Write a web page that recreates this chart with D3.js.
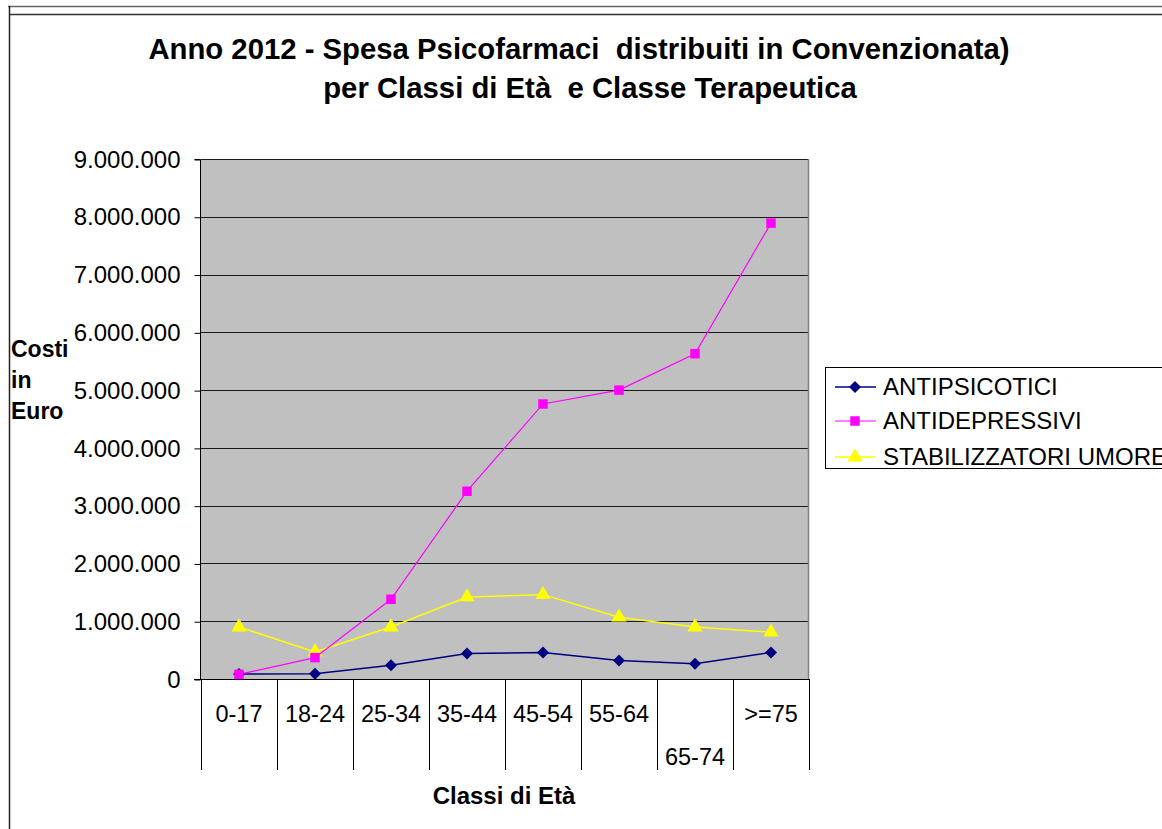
<!DOCTYPE html>
<html><head><meta charset="utf-8">
<script src="https://cdn.jsdelivr.net/npm/d3@7"></script>
<style>
body{margin:0;background:#fff;}
svg{display:block;font-family:"Liberation Sans",Arial,sans-serif;}
</style></head>
<body><svg id="c" width="1162" height="829"></svg>
<script>
const categories = ["0-17","18-24","25-34","35-44","45-54","55-64","65-74",">=75"];
const antipsicotici = [85000, 90000, 240000, 440000, 460000, 320000, 265000, 460000];
const antidepressivi = [80000, 370000, 1380000, 3250000, 4760000, 5000000, 5630000, 7890000];
const stabilizzatori = [900000, 470000, 900000, 1420000, 1460000, 1070000, 900000, 810000];
const seriesNames = ["ANTIPSICOTICI","ANTIDEPRESSIVI","STABILIZZATORI UMORE"];
const yTicks = [0,1000000,2000000,3000000,4000000,5000000,6000000,7000000,8000000,9000000];
const titleLines = ["Anno 2012 - Spesa Psicofarmaci  distribuiti in Convenzionata)","per Classi di Età  e Classe Terapeutica"];
const yTitle = ["Costi","in","Euro"];
const xTitle = "Classi di Età";

const svg = d3.select("#c");
const L=201, R=809, T=159, B=679;
const x = d3.scaleBand().domain(categories).range([L,R]);
const y = d3.scaleLinear().domain([0,9000000]).range([B,T]);
const loc = d3.formatLocale({decimal:",",thousands:".",grouping:[3],currency:["",""]});
const fmt = loc.format(",d");

// outer frame
svg.append("line").attr("x1",8).attr("x2",1162).attr("y1",6.5).attr("y2",6.5).attr("stroke","#666").attr("stroke-width",1.5);
svg.append("line").attr("x1",10).attr("x2",1162).attr("y1",14.5).attr("y2",14.5).attr("stroke","#333").attr("stroke-width",1.5);
svg.append("line").attr("x1",9.5).attr("x2",9.5).attr("y1",6).attr("y2",829).attr("stroke","#222").attr("stroke-width",1.5);

// plot bg
svg.append("rect").attr("x",L).attr("y",T).attr("width",R-L).attr("height",B-T).attr("fill","#C0C0C0");
// grid
svg.append("g").selectAll("line").data(yTicks.slice(1)).join("line")
  .attr("x1",L).attr("x2",R).attr("y1",d=>Math.round(y(d))+0.5).attr("y2",d=>Math.round(y(d))+0.5)
  .attr("stroke","#1a1a1a").attr("stroke-width",1);
svg.append("line").attr("x1",R-0.5).attr("x2",R-0.5).attr("y1",T).attr("y2",B).attr("stroke","#808080").attr("stroke-width",1.5);

// y axis
const ya = svg.append("g").attr("transform",`translate(${L-0.5},0.5)`)
  .call(d3.axisLeft(y).tickValues(yTicks).tickFormat(fmt).tickSize(6).tickPadding(14));
ya.select(".domain").attr("stroke","#000").attr("d",`M-6,${T}H0V${B}`);
ya.selectAll(".tick line").attr("stroke","#000");
ya.selectAll(".tick text").attr("font-size",24).attr("fill","#000").attr("font-family","Liberation Sans, Arial, sans-serif");

// x axis
svg.append("line").attr("x1",194).attr("x2",R).attr("y1",B+0.5).attr("y2",B+0.5).attr("stroke","#000");
const bounds = categories.map(c=>x(c)).concat([R]);
svg.append("g").selectAll("line").data(bounds).join("line")
  .attr("x1",d=>Math.round(d)+0.5).attr("x2",d=>Math.round(d)+0.5).attr("y1",B).attr("y2",770)
  .attr("stroke","#000").attr("stroke-width",1);
svg.append("g").selectAll("text").data(categories).join("text")
  .attr("x",d=>x(d)+x.bandwidth()/2).attr("y",d=>d==="65-74"?765:722)
  .attr("text-anchor","middle").attr("font-size",23.5).text(d=>d);

// titles
svg.append("g").selectAll("text").data(titleLines).join("text")
  .attr("x",(d,i)=>i===0?579:590).attr("y",(d,i)=>59+i*39)
  .attr("text-anchor","middle").attr("font-weight","bold").attr("font-size",29.3)
  .style("white-space","pre").text(d=>d);
svg.append("text").attr("x",504).attr("y",804).attr("text-anchor","middle")
  .attr("font-weight","bold").attr("font-size",24).text(xTitle);
svg.append("g").selectAll("text").data(yTitle).join("text")
  .attr("x",11).attr("y",(d,i)=>357+i*31).attr("font-weight","bold").attr("font-size",23).text(d=>d);

// series
const cx = d=>x(d)+x.bandwidth()/2;
const series = [
  {name:seriesNames[0], vals:antipsicotici, color:"#000080", sw:1.5, marker:"diamond"},
  {name:seriesNames[1], vals:antidepressivi, color:"#FF00FF", sw:1.2, marker:"square"},
  {name:seriesNames[2], vals:stabilizzatori, color:"#FFFF00", sw:1.5, marker:"triangle"}
];
const sym = {
  diamond:()=>"M0,-6L6,0L0,6L-6,0Z",
  square:d3.symbol(d3.symbolSquare,90),
  triangle:d3.symbol(d3.symbolTriangle,100)
};
const line = d3.line().x((d,i)=>cx(categories[i])).y(d=>y(d));
[2,0,1].forEach(k=>{
  const s=series[k];
  svg.append("path").attr("d",line(s.vals)).attr("fill","none").attr("stroke",s.color).attr("stroke-width",s.sw);
  svg.append("g").selectAll("path").data(s.vals).join("path")
    .attr("transform",(d,i)=>`translate(${cx(categories[i])},${y(d)})`)
    .attr("d",sym[s.marker]()).attr("fill",s.color);
});

// legend
const lg = svg.append("g");
lg.append("rect").attr("x",825.5).attr("y",367.5).attr("width",400).attr("height",101).attr("fill","#fff").attr("stroke","#000").attr("stroke-width",1);
const ly=[387,421,457];
series.forEach((s,i)=>{
  lg.append("line").attr("x1",835).attr("x2",876).attr("y1",ly[i]).attr("y2",ly[i]).attr("stroke",s.color).attr("stroke-width",s.sw);
  lg.append("path").attr("transform",`translate(855,${ly[i]})`).attr("d",sym[s.marker]()).attr("fill",s.color);
  lg.append("text").attr("x",883).attr("y",ly[i]+8).attr("font-size",24).text(s.name);
});
</script></body></html>
